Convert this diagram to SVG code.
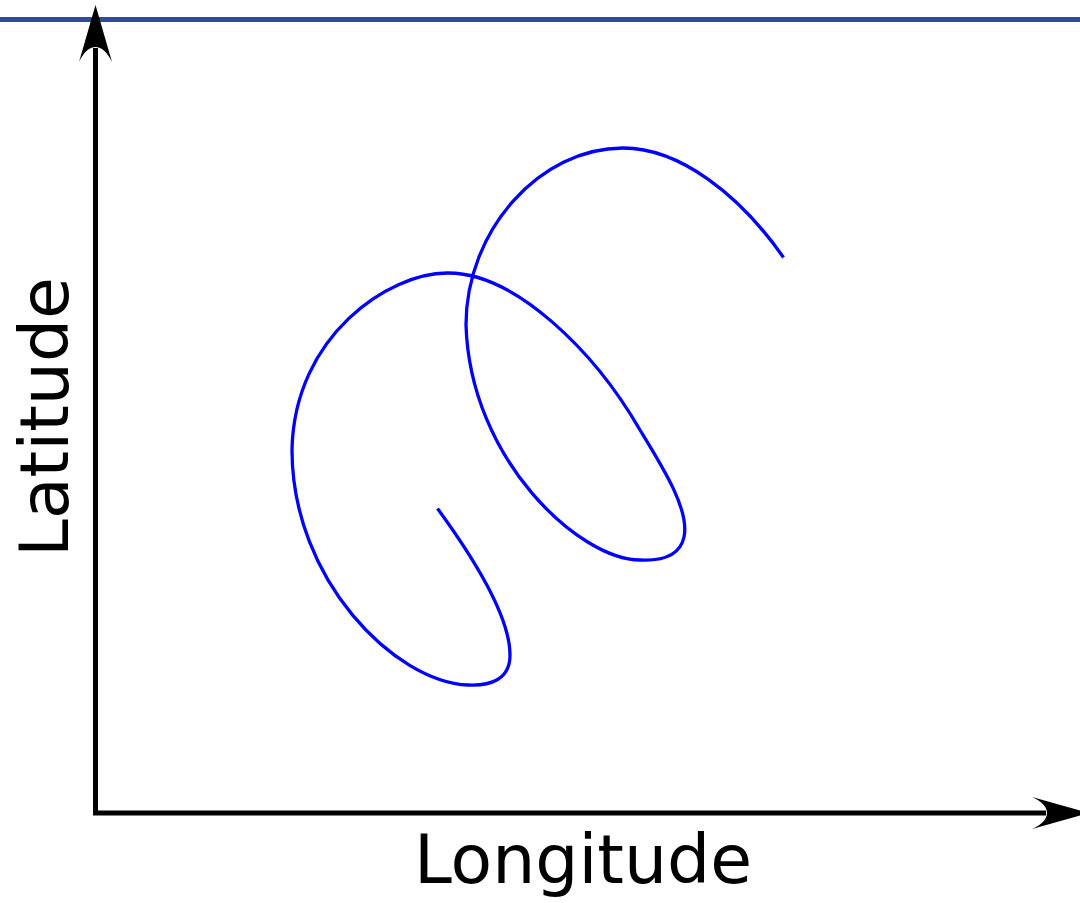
<svg xmlns="http://www.w3.org/2000/svg" width="1080" height="903" viewBox="0 0 1080 903">
  <style>
    .axis { fill: none; stroke: #000; stroke-width: 5; stroke-linejoin: miter; }
    .head { fill: #000; stroke: none; }
    .track { fill: none; stroke: #0000ff; stroke-width: 3.3; stroke-linecap: butt; stroke-linejoin: round; }
    .label { font-family: "DejaVu Sans", "Liberation Sans", sans-serif; font-size: 68px; fill: #000; }
  </style>
  <rect x="0" y="0" width="1080" height="903" fill="#ffffff"/>
  <g id="top-rule">
    <line x1="0" y1="19.5" x2="1080" y2="19.5" stroke="#2c4c9c" stroke-width="5"/>
  </g>
  <g id="axes">
    <path class="axis" d="M95.5,48 V813 H1046"/>
    <path class="head" d="M79,62 L95.5,5 L112,62 C102.5,42 88.5,42 79,62 Z"/>
    <path class="head" d="M1032,797 L1089,813 L1032,829 C1052,820 1052,806 1032,797 Z"/>
  </g>
  <g id="track">
    <path class="track" d="M437.5,508.5 C470,553 510,615 510,655 C510,680 490,686 468,685 C395,682 292,580 292,450 C294,335 390,273 447,273 C515,272 595,352 640,430 C662,466 690,510 684,537 C680,556 662,561 640,560 C580,560 470,460 466,325 C466,230 540,148 623,148 C680,148 740,195 783.5,257.5"/>
  </g>
  <g id="labels">
    <text class="label" x="583" y="883" text-anchor="middle">Longitude</text>
    <text class="label" transform="translate(68,417) rotate(-90)" text-anchor="middle">Latitude</text>
  </g>
</svg>
